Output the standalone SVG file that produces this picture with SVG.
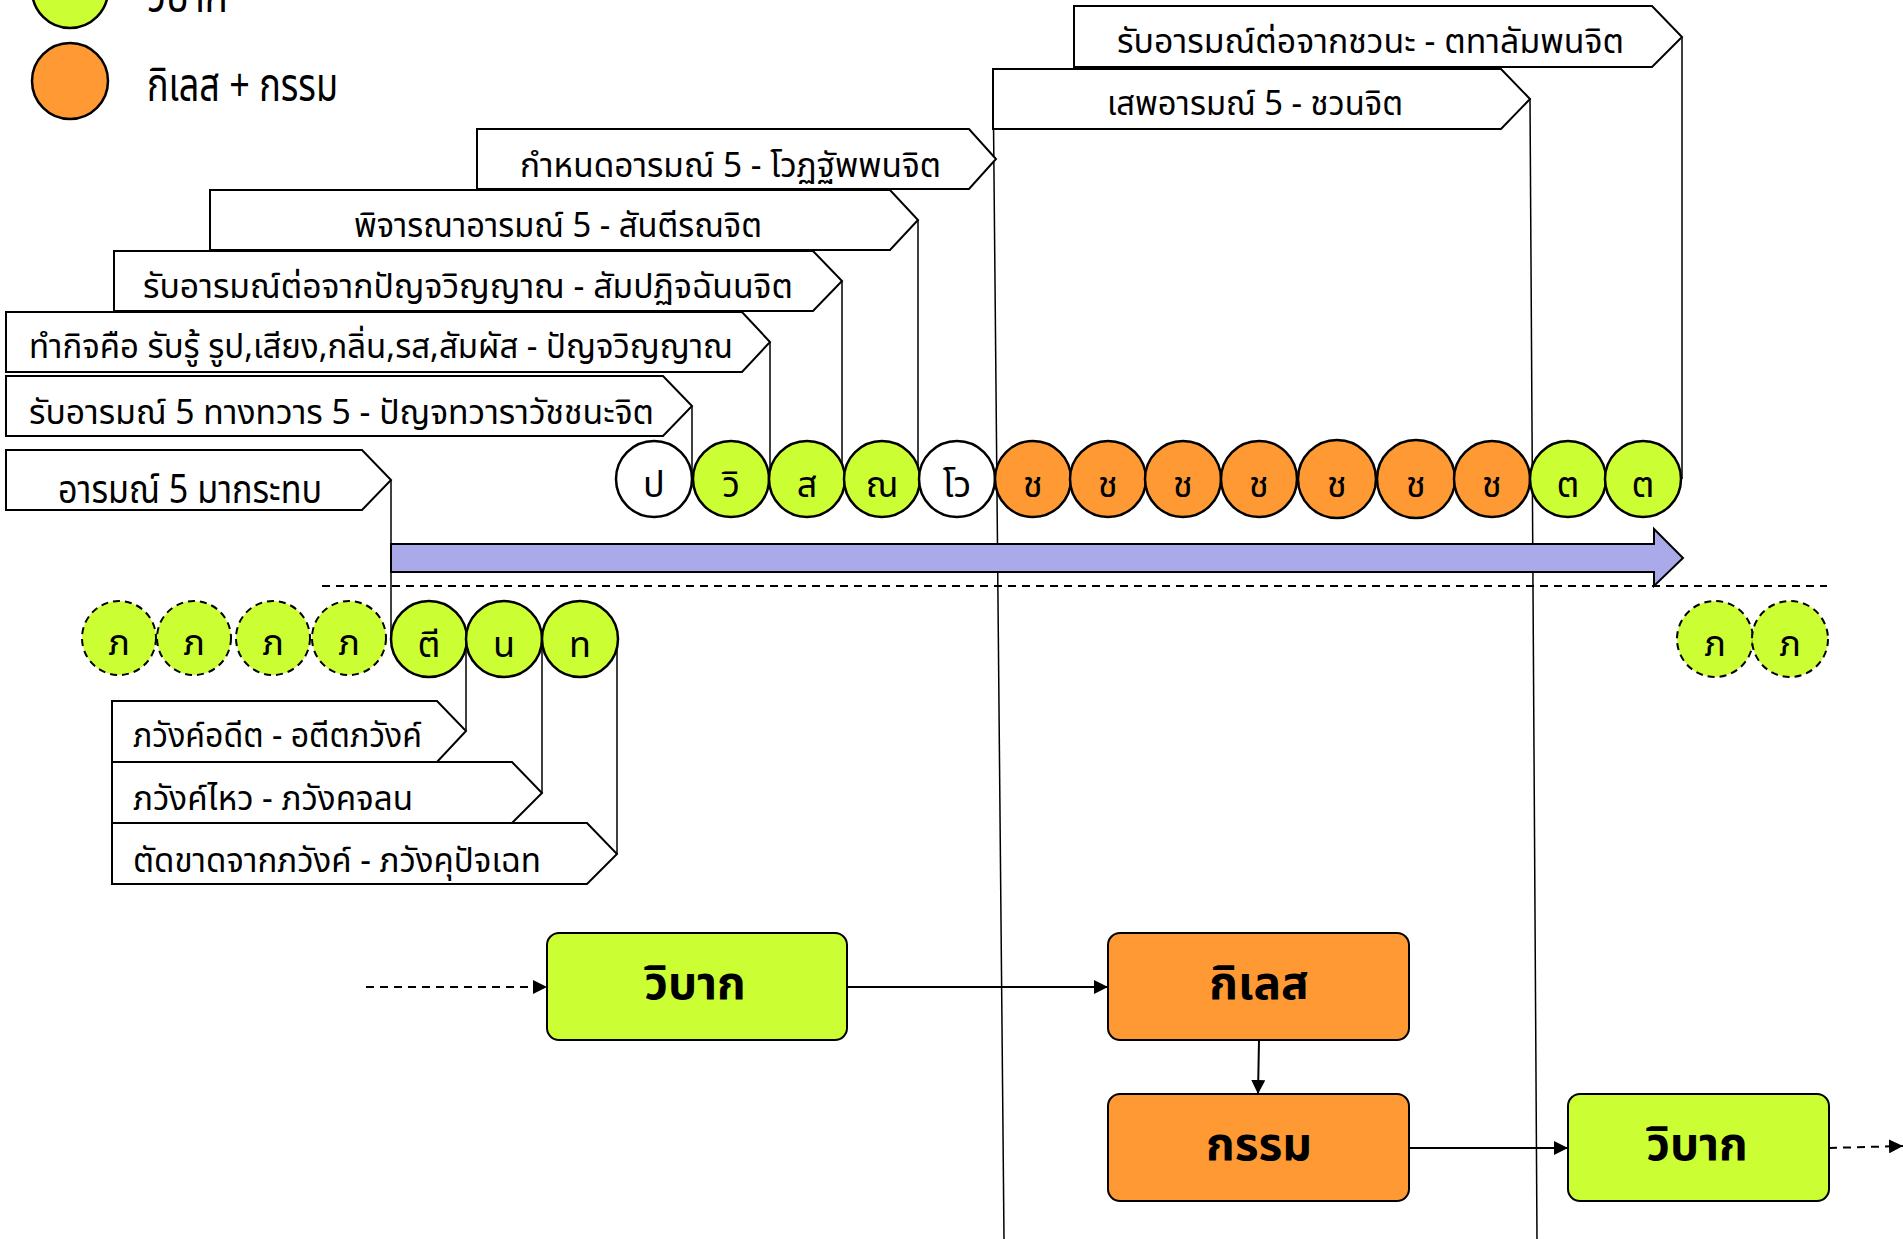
<svg xmlns="http://www.w3.org/2000/svg" width="1903" height="1239" viewBox="0 0 1903 1239">
<defs>
<style>
text{font-family:'Noto Sans Thai','Noto Sans','DejaVu Sans',sans-serif;fill:#000}
.pent{fill:#fff;stroke:#000;stroke-width:2}
.c{stroke:#000;stroke-width:2.5}
.cd{stroke:#000;stroke-width:2;stroke-dasharray:7 5}
.g{fill:#CCFF33}
.o{fill:#FF9933}
.w{fill:#fff}
.lbl{font-size:34px}
.big{font-size:46px}
.mid{font-size:40px}
.cl{font-size:36px;text-anchor:middle}
.box{stroke:#000;stroke-width:2}
.bt{font-size:46px;font-weight:bold;text-anchor:middle}
.ln{fill:none;stroke:#000;stroke-width:1.5}
.con{fill:none;stroke:#000;stroke-width:2}
.dash{stroke-dasharray:8 6}
</style>
<marker id="ah" viewBox="0 0 10 10" refX="10" refY="5" markerWidth="14" markerHeight="14" markerUnits="userSpaceOnUse" orient="auto">
<path d="M0,0 L10,5 L0,10 Z" fill="#000"/>
</marker>
</defs>

<g id="legend">
<circle cx="70" cy="-10" r="38" class="c g"/>
<text x="147" y="12" class="big" textLength="81" lengthAdjust="spacingAndGlyphs">วิบาก</text>
<circle cx="70" cy="81" r="38" class="c o"/>
<text x="147" y="101" class="big" textLength="191" lengthAdjust="spacingAndGlyphs">กิเลส + กรรม</text>
</g>

<g id="connectors">
<line x1="1682" y1="37" x2="1682" y2="479" class="ln"/>
<line x1="993" y1="69" x2="1004" y2="1239" class="ln"/>
<line x1="1530" y1="99" x2="1537" y2="1239" class="ln"/>
<line x1="918" y1="220" x2="918" y2="479" class="ln"/>
<line x1="842" y1="281" x2="842" y2="479" class="ln"/>
<line x1="770" y1="342" x2="770" y2="479" class="ln"/>
<line x1="692" y1="406" x2="692" y2="479" class="ln"/>
<line x1="391" y1="480" x2="391" y2="639" class="ln"/>
<line x1="466" y1="731" x2="466" y2="639" class="ln"/>
<line x1="542" y1="793" x2="542" y2="639" class="ln"/>
<line x1="617" y1="854" x2="617" y2="639" class="ln"/>
<line x1="322" y1="586" x2="1827" y2="586" stroke="#000" stroke-width="2" stroke-dasharray="8 6"/>
<line x1="366" y1="987" x2="547" y2="987" class="con dash" marker-end="url(#ah)"/>
<line x1="847" y1="987" x2="1108" y2="987" class="con" marker-end="url(#ah)"/>
<line x1="1259" y1="1040" x2="1258" y2="1094" class="con" marker-end="url(#ah)"/>
<line x1="1409" y1="1148" x2="1568" y2="1148" class="con" marker-end="url(#ah)"/>
<line x1="1829" y1="1148" x2="1903" y2="1146" class="con dash" marker-end="url(#ah)"/>
</g>

<g id="timeline-arrow">
<polygon points="391,544 1654,544 1654,529 1683,558 1654,586 1654,572 391,572" fill="#AAAAEA" stroke="#000" stroke-width="2"/>
</g>

<g id="label-tadalambana">
<path d="M1074,6 H1652 L1682,37 L1652,67 H1074 Z" class="pent"/>
<text x="1117" y="53" class="lbl" textLength="507" lengthAdjust="spacingAndGlyphs">รับอารมณ์ต่อจากชวนะ - ตทาลัมพนจิต</text>
</g>
<g id="label-javana">
<path d="M993,69 H1501 L1530,99 L1501,129 H993 Z" class="pent"/>
<text x="1107" y="115" class="lbl" textLength="296" lengthAdjust="spacingAndGlyphs">เสพอารมณ์ 5 - ชวนจิต</text>
</g>
<g id="label-votthapana">
<path d="M477,129 H969 L996,159 L969,189 H477 Z" class="pent"/>
<text x="520" y="177" class="lbl" textLength="421" lengthAdjust="spacingAndGlyphs">กำหนดอารมณ์ 5 - โวฏฐัพพนจิต</text>
</g>
<g id="label-santirana">
<path d="M210,190 H890 L918,220 L890,250 H210 Z" class="pent"/>
<text x="354" y="237" class="lbl" textLength="408" lengthAdjust="spacingAndGlyphs">พิจารณาอารมณ์ 5 - สันตีรณจิต</text>
</g>
<g id="label-sampaticchana">
<path d="M114,251 H813 L842,281 L813,311 H114 Z" class="pent"/>
<text x="143" y="298" class="lbl" textLength="650" lengthAdjust="spacingAndGlyphs">รับอารมณ์ต่อจากปัญจวิญญาณ - สัมปฏิจฉันนจิต</text>
</g>
<g id="label-pancavinnana">
<path d="M6,312 H742 L770,342 L742,372 H6 Z" class="pent"/>
<text x="29" y="358" class="lbl" textLength="704" lengthAdjust="spacingAndGlyphs">ทำกิจคือ รับรู้ รูป,เสียง,กลิ่น,รส,สัมผัส - ปัญจวิญญาณ</text>
</g>
<g id="label-pancadvaravajjana">
<path d="M6,376 H663 L692,406 L663,436 H6 Z" class="pent"/>
<text x="29" y="424" class="lbl" textLength="625" lengthAdjust="spacingAndGlyphs">รับอารมณ์ 5 ทางทวาร 5 - ปัญจทวาราวัชชนะจิต</text>
</g>
<g id="label-arammana">
<path d="M6,450 H362 L391,480 L362,510 H6 Z" class="pent"/>
<text x="58" y="503" class="mid" textLength="264" lengthAdjust="spacingAndGlyphs">อารมณ์ 5 มากระทบ</text>
</g>
<g id="label-atitabhavanga">
<path d="M112,701 H437 L466,731 L437,762 H112 Z" class="pent"/>
<text x="133" y="747" class="lbl" textLength="289" lengthAdjust="spacingAndGlyphs">ภวังค์อดีต - อตีตภวังค์</text>
</g>
<g id="label-bhavangacalana">
<path d="M112,762 H512 L542,793 L512,823 H112 Z" class="pent"/>
<text x="133" y="810" class="lbl" textLength="280" lengthAdjust="spacingAndGlyphs">ภวังค์ไหว - ภวังคจลน</text>
</g>
<g id="label-bhavangupaccheda">
<path d="M112,823 H587 L617,854 L587,884 H112 Z" class="pent"/>
<text x="133" y="872" class="lbl" textLength="408" lengthAdjust="spacingAndGlyphs">ตัดขาดจากภวังค์ - ภวังคุปัจเฉท</text>
</g>

<g id="citta-row">
<g id="c-pa"><circle cx="654" cy="479" r="38" class="c w"/><text x="654" y="497" class="cl">ป</text></g>
<g id="c-vi"><circle cx="731" cy="479" r="38" class="c g"/><text x="731" y="497" class="cl">วิ</text></g>
<g id="c-sa"><circle cx="807" cy="479" r="38" class="c g"/><text x="807" y="497" class="cl">ส</text></g>
<g id="c-na"><circle cx="882" cy="479" r="38" class="c g"/><text x="882" y="497" class="cl">ณ</text></g>
<g id="c-vo"><circle cx="957" cy="479" r="38" class="c w"/><text x="957" y="497" class="cl">โว</text></g>
<g id="c-ja1"><circle cx="1033" cy="479" r="38" class="c o"/><text x="1033" y="497" class="cl">ช</text></g>
<g id="c-ja2"><circle cx="1108" cy="479" r="38" class="c o"/><text x="1108" y="497" class="cl">ช</text></g>
<g id="c-ja3"><circle cx="1183" cy="479" r="38" class="c o"/><text x="1183" y="497" class="cl">ช</text></g>
<g id="c-ja4"><circle cx="1259" cy="479" r="38" class="c o"/><text x="1259" y="497" class="cl">ช</text></g>
<g id="c-ja5"><circle cx="1337" cy="479" r="39" class="c o"/><text x="1337" y="497" class="cl">ช</text></g>
<g id="c-ja6"><circle cx="1416" cy="479" r="39" class="c o"/><text x="1416" y="497" class="cl">ช</text></g>
<g id="c-ja7"><circle cx="1492" cy="479" r="38" class="c o"/><text x="1492" y="497" class="cl">ช</text></g>
<g id="c-ta1"><circle cx="1568" cy="479" r="38" class="c g"/><text x="1568" y="497" class="cl">ต</text></g>
<g id="c-ta2"><circle cx="1643" cy="479" r="38" class="c g"/><text x="1643" y="497" class="cl">ต</text></g>
</g>

<g id="bhavanga-row">
<g id="b1"><circle cx="119" cy="638" r="37" class="cd g"/><text x="119" y="655" class="cl">ภ</text></g>
<g id="b2"><circle cx="194" cy="638" r="37" class="cd g"/><text x="194" y="655" class="cl">ภ</text></g>
<g id="b3"><circle cx="273" cy="638" r="37" class="cd g"/><text x="273" y="655" class="cl">ภ</text></g>
<g id="b4"><circle cx="349" cy="638" r="37" class="cd g"/><text x="349" y="655" class="cl">ภ</text></g>
<g id="b-ti"><circle cx="429" cy="639" r="38" class="c g"/><text x="429" y="657" class="cl">ตี</text></g>
<g id="b-na"><circle cx="504" cy="639" r="38" class="c g"/><text x="504" y="657" class="cl">น</text></g>
<g id="b-tha"><circle cx="580" cy="639" r="38" class="c g"/><text x="580" y="657" class="cl">ท</text></g>
<g id="b5"><circle cx="1715" cy="639" r="38" class="cd g"/><text x="1715" y="656" class="cl">ภ</text></g>
<g id="b6"><circle cx="1790" cy="639" r="38" class="cd g"/><text x="1790" y="656" class="cl">ภ</text></g>
</g>

<g id="box-vipaka1">
<rect x="547" y="933" width="300" height="107" rx="12" class="box g"/>
<text x="695" y="999" class="bt">วิบาก</text>
</g>
<g id="box-kilesa">
<rect x="1108" y="933" width="301" height="107" rx="12" class="box o"/>
<text x="1259" y="999" class="bt">กิเลส</text>
</g>
<g id="box-kamma">
<rect x="1108" y="1094" width="301" height="107" rx="12" class="box o"/>
<text x="1259" y="1160" class="bt">กรรม</text>
</g>
<g id="box-vipaka2">
<rect x="1568" y="1094" width="261" height="107" rx="12" class="box g"/>
<text x="1697" y="1160" class="bt">วิบาก</text>
</g>
</svg>
